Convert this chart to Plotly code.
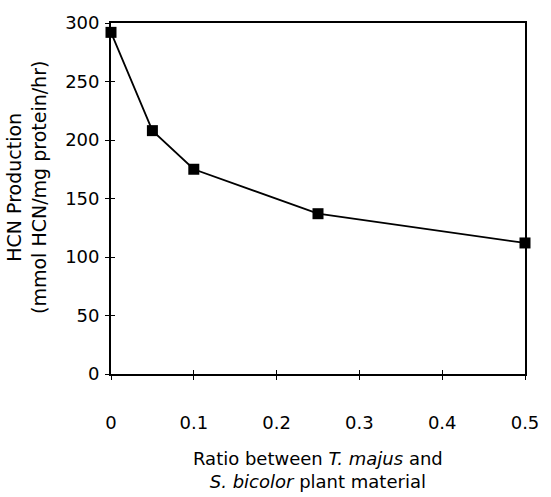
import plotly.graph_objects as go

ratio = [0, 0.05, 0.1, 0.25, 0.5]
hcn = [292, 208, 175, 137, 112]
x_ticks = [0, 0.1, 0.2, 0.3, 0.4, 0.5]
x_labels = ["0", "0.1", "0.2", "0.3", "0.4", "0.5"]
y_ticks = [0, 50, 100, 150, 200, 250, 300]

FONT = "DejaVu Sans"
fig = go.Figure()
fig.add_trace(go.Scatter(
    x=ratio, y=hcn, mode="lines+markers",
    line=dict(color="black", width=1.8),
    marker=dict(symbol="square", size=11, color="black"),
    cliponaxis=False, showlegend=False))
# invisible trace to carry the inner half of cross ticks
fig.add_trace(go.Scatter(x=ratio, y=hcn, xaxis="x2", yaxis="y2",
                         mode="markers", marker=dict(opacity=0),
                         showlegend=False, hoverinfo="skip"))

fig.update_layout(
    width=551, height=497,
    margin=dict(l=111, r=17, t=20, b=123),
    paper_bgcolor="white", plot_bgcolor="white",
    font=dict(family=FONT, size=18, color="black"),
    xaxis=dict(range=[0, 0.5], tickvals=x_ticks, ticktext=x_labels,
               showgrid=False, zeroline=False, showline=True,
               linecolor="black", linewidth=1.8, mirror=True,
               ticks="outside", ticklen=4, tickwidth=1.4, tickcolor="black",
               ticklabelstandoff=27),
    yaxis=dict(range=[0, 300], tickvals=y_ticks,
               showgrid=False, zeroline=False, showline=True,
               linecolor="black", linewidth=1.8, mirror=True,
               ticks="outside", ticklen=4, tickwidth=1.4, tickcolor="black",
               ticklabelstandoff=2),
    xaxis2=dict(range=[0, 0.5], tickvals=x_ticks, overlaying="x",
                anchor="y", showticklabels=False, showgrid=False,
                zeroline=False, showline=False, ticks="inside", ticklen=4,
                tickwidth=1.4, tickcolor="black"),
    yaxis2=dict(range=[0, 300], tickvals=y_ticks, overlaying="y",
                anchor="x", showticklabels=False, showgrid=False,
                zeroline=False, showline=False, ticks="inside", ticklen=4,
                tickwidth=1.4, tickcolor="black"),
    annotations=[
        dict(text="HCN Production<br>(mmol HCN/mg protein/hr)",
             xref="paper", yref="paper", x=0, y=0.53, xshift=-84,
             xanchor="center", yanchor="middle", textangle=-90,
             showarrow=False, font=dict(family=FONT, size=19)),
        dict(text="Ratio between <i>T. majus</i> and<br><i>S. bicolor</i> plant material",
             xref="paper", yref="paper", x=0.5, y=-0.274,
             xanchor="center", yanchor="middle",
             showarrow=False, font=dict(family=FONT, size=18)),
    ],
)

fig.write_html("out.html")
